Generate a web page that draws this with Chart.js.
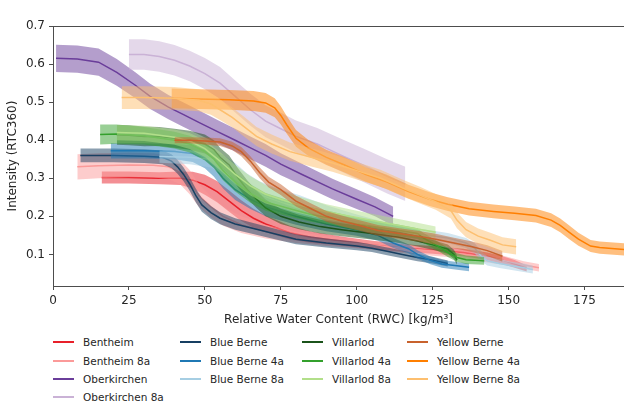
<!DOCTYPE html>
<html>
<head>
<meta charset="utf-8">
<script src="https://cdn.jsdelivr.net/npm/chart.js@4/dist/chart.umd.min.js"></script>
<style>
	body { margin: 0; background: #fff; font-family: "DejaVu Sans", sans-serif; }
	#wrap { position: relative; width: 624px; height: 404px; overflow: hidden; }
	#box { position: absolute; left: 0; top: 0; width: 624px; height: 330px; }
	.leg { position: absolute; height: 14px; font-size: 10.5px; color: #262626; display: flex; align-items: center; white-space: nowrap; }
	.leg .sw { display: inline-block; width: 21px; height: 2px; margin-right: 9px; }
</style>
</head>
<body>
<div id="wrap">
	<div id="box"><canvas id="grafico"></canvas></div>
	<div id="legenda"></div>
</div>
<script>
// series names, colours (legend order)
const nomes = ["Bentheim", "Bentheim 8a", "Oberkirchen", "Oberkirchen 8a",
	"Blue Berne", "Blue Berne 4a", "Blue Berne 8a",
	"Villarlod", "Villarlod 4a", "Villarlod 8a",
	"Yellow Berne", "Yellow Berne 4a", "Yellow Berne 8a"]
const cores = ["#e8202a", "#fb9a99", "#6a3d9a", "#cab2d6",
	"#173f62", "#1f78b4", "#a6cee3",
	"#1b531b", "#33a02c", "#b2df8a",
	"#c8622d", "#ff7f00", "#fdbf6f"]

// RWC (x), mean intensity (y), half band width (s)
const bentheimX = [16, 25, 35, 42, 46, 50, 54, 58, 62, 66, 70, 78, 85, 95, 105, 115, 125, 135, 143, 148, 152, 156]
const bentheimY = [0.302, 0.302, 0.300, 0.300, 0.295, 0.283, 0.265, 0.240, 0.215, 0.195, 0.180, 0.157, 0.145, 0.135, 0.125, 0.117, 0.112, 0.105, 0.095, 0.085, 0.075, 0.063]
const bentheimS = [0.016, 0.016, 0.016, 0.018, 0.022, 0.026, 0.028, 0.028, 0.027, 0.025, 0.022, 0.018, 0.015, 0.012, 0.011, 0.010, 0.010, 0.010, 0.010, 0.010, 0.010, 0.008]

const bentheim8aX = [8, 15, 25, 33, 38, 42, 45, 48, 52, 56, 62, 70, 80, 90, 100, 110, 120, 130, 140, 148, 155, 160]
const bentheim8aY = [0.330, 0.333, 0.335, 0.334, 0.330, 0.315, 0.290, 0.255, 0.225, 0.200, 0.178, 0.160, 0.145, 0.135, 0.128, 0.120, 0.112, 0.105, 0.095, 0.085, 0.072, 0.065]
const bentheim8aS = [0.033, 0.033, 0.032, 0.032, 0.032, 0.032, 0.032, 0.030, 0.028, 0.025, 0.022, 0.018, 0.015, 0.013, 0.012, 0.012, 0.012, 0.012, 0.012, 0.012, 0.010, 0.010]

const oberkirchenX = [1, 8, 15, 21, 27, 32, 38, 43, 48, 54, 60, 65, 70, 75, 82, 92, 100, 106, 112]
const oberkirchenY = [0.615, 0.613, 0.605, 0.578, 0.545, 0.515, 0.487, 0.467, 0.447, 0.423, 0.400, 0.380, 0.360, 0.337, 0.310, 0.272, 0.245, 0.225, 0.200]
const oberkirchenS = [0.036, 0.036, 0.036, 0.035, 0.034, 0.033, 0.032, 0.032, 0.032, 0.031, 0.030, 0.030, 0.030, 0.029, 0.028, 0.027, 0.026, 0.025, 0.025]

const oberkirchen8aX = [25, 30, 35, 40, 45, 50, 55, 60, 65, 70, 75, 80, 87, 95, 102, 110, 116]
const oberkirchen8aY = [0.625, 0.625, 0.620, 0.610, 0.595, 0.575, 0.550, 0.515, 0.480, 0.450, 0.430, 0.410, 0.390, 0.360, 0.335, 0.305, 0.285]
const oberkirchen8aS = [0.040, 0.040, 0.040, 0.040, 0.040, 0.041, 0.042, 0.042, 0.042, 0.042, 0.042, 0.042, 0.042, 0.043, 0.044, 0.045, 0.045]

const blueX = [9, 20, 30, 36, 39, 41, 43, 45, 47, 49, 52, 55, 60, 70, 80, 90, 100, 105, 110, 115, 120, 125, 130]
const blueY = [0.360, 0.360, 0.358, 0.355, 0.345, 0.330, 0.310, 0.285, 0.255, 0.230, 0.210, 0.195, 0.180, 0.160, 0.140, 0.130, 0.122, 0.116, 0.108, 0.100, 0.092, 0.085, 0.076]
const blueS = [0.018, 0.018, 0.018, 0.018, 0.018, 0.018, 0.018, 0.018, 0.018, 0.018, 0.017, 0.016, 0.015, 0.014, 0.013, 0.012, 0.011, 0.010, 0.010, 0.010, 0.010, 0.009, 0.008]

const blue4aX = [19, 30, 40, 46, 50, 53, 56, 60, 65, 70, 80, 90, 100, 107, 112, 117, 120, 124, 128, 133, 137]
const blue4aY = [0.372, 0.372, 0.370, 0.365, 0.350, 0.330, 0.300, 0.270, 0.245, 0.225, 0.200, 0.180, 0.165, 0.150, 0.130, 0.115, 0.100, 0.085, 0.075, 0.070, 0.066]
const blue4aS = [0.020, 0.020, 0.020, 0.022, 0.024, 0.026, 0.027, 0.027, 0.026, 0.025, 0.022, 0.019, 0.016, 0.014, 0.013, 0.012, 0.011, 0.010, 0.010, 0.010, 0.010]

const blue8aX = [35, 45, 52, 56, 60, 64, 68, 75, 81, 90, 100, 108, 115, 122, 130, 136, 139, 141, 143, 147, 151, 155, 158]
const blue8aY = [0.357, 0.355, 0.350, 0.335, 0.310, 0.280, 0.260, 0.240, 0.228, 0.205, 0.185, 0.170, 0.160, 0.152, 0.143, 0.130, 0.115, 0.095, 0.083, 0.076, 0.070, 0.065, 0.060]
const blue8aS = [0.016, 0.018, 0.022, 0.026, 0.030, 0.032, 0.032, 0.030, 0.028, 0.024, 0.020, 0.017, 0.015, 0.014, 0.013, 0.013, 0.013, 0.013, 0.012, 0.012, 0.011, 0.011, 0.010]

const villarlodX = [21, 25, 30, 35, 40, 45, 50, 53, 55, 58, 61, 64, 67, 70, 75, 81, 88, 95, 105, 114, 120, 125, 130, 132, 133]
const villarlodY = [0.414, 0.413, 0.410, 0.410, 0.405, 0.400, 0.390, 0.375, 0.355, 0.335, 0.300, 0.270, 0.245, 0.222, 0.200, 0.185, 0.173, 0.165, 0.155, 0.145, 0.135, 0.125, 0.114, 0.100, 0.085]
const villarlodS = [0.026, 0.026, 0.026, 0.025, 0.025, 0.025, 0.025, 0.025, 0.025, 0.025, 0.025, 0.024, 0.023, 0.022, 0.020, 0.019, 0.018, 0.017, 0.016, 0.015, 0.014, 0.013, 0.012, 0.012, 0.012]

const villarlod4aX = [15.5, 21, 30, 40, 45, 50, 53, 56, 60, 65, 70, 78, 85, 92, 100, 108, 114, 120, 122, 126, 130, 133, 136, 142]
const villarlod4aY = [0.415, 0.416, 0.412, 0.400, 0.390, 0.370, 0.350, 0.320, 0.290, 0.260, 0.238, 0.220, 0.205, 0.194, 0.180, 0.170, 0.163, 0.155, 0.143, 0.125, 0.105, 0.092, 0.086, 0.083]
const villarlod4aS = [0.026, 0.025, 0.023, 0.022, 0.022, 0.023, 0.024, 0.025, 0.025, 0.024, 0.023, 0.021, 0.019, 0.018, 0.017, 0.016, 0.015, 0.014, 0.013, 0.012, 0.012, 0.011, 0.011, 0.010]

const villarlod8aX = [21, 30, 40, 45, 50, 55, 60, 65, 70, 80, 90, 100, 110, 120, 126]
const villarlod8aY = [0.420, 0.418, 0.408, 0.398, 0.378, 0.345, 0.310, 0.280, 0.258, 0.232, 0.212, 0.197, 0.182, 0.167, 0.158]
const villarlod8aS = [0.020, 0.020, 0.020, 0.021, 0.022, 0.024, 0.025, 0.025, 0.024, 0.022, 0.020, 0.018, 0.017, 0.016, 0.015]

const yellowX = [40, 45, 50, 55, 59, 62, 65, 68, 71, 75, 80, 85, 90, 95, 100, 107, 114, 120, 126, 132, 138, 143, 148]
const yellowY = [0.400, 0.400, 0.398, 0.395, 0.385, 0.370, 0.345, 0.315, 0.290, 0.270, 0.240, 0.220, 0.200, 0.188, 0.178, 0.163, 0.155, 0.148, 0.140, 0.130, 0.120, 0.110, 0.095]
const yellowS = [0.008, 0.008, 0.009, 0.010, 0.011, 0.012, 0.013, 0.014, 0.014, 0.014, 0.014, 0.014, 0.014, 0.014, 0.014, 0.014, 0.014, 0.014, 0.014, 0.014, 0.014, 0.014, 0.014]

const yellow4aX = [39, 48, 58, 66, 70, 73, 75, 77, 80, 84, 90, 96, 103, 110, 117, 124, 130, 137, 145, 152, 159, 164, 167, 170, 173, 177, 180, 188]
const yellow4aY = [0.510, 0.508, 0.506, 0.503, 0.498, 0.485, 0.465, 0.440, 0.405, 0.380, 0.355, 0.335, 0.310, 0.290, 0.265, 0.245, 0.232, 0.220, 0.213, 0.208, 0.202, 0.190, 0.176, 0.158, 0.140, 0.122, 0.118, 0.113]
const yellow4aS = [0.026, 0.026, 0.026, 0.026, 0.026, 0.025, 0.024, 0.023, 0.022, 0.021, 0.020, 0.020, 0.019, 0.019, 0.018, 0.018, 0.018, 0.018, 0.018, 0.018, 0.018, 0.018, 0.018, 0.018, 0.017, 0.016, 0.016, 0.016]

const yellow8aX = [22.6, 30, 40, 48, 52, 55, 59, 63, 67, 72, 78, 85, 92, 100, 108, 115, 121, 126, 131, 133, 136, 140, 144, 148, 152.5]
const yellow8aY = [0.512, 0.512, 0.510, 0.505, 0.495, 0.480, 0.460, 0.435, 0.410, 0.390, 0.370, 0.355, 0.340, 0.320, 0.300, 0.275, 0.255, 0.238, 0.215, 0.190, 0.165, 0.148, 0.137, 0.125, 0.120]
const yellow8aS = [0.030, 0.030, 0.030, 0.029, 0.028, 0.027, 0.026, 0.026, 0.025, 0.025, 0.024, 0.024, 0.023, 0.023, 0.022, 0.022, 0.022, 0.021, 0.021, 0.021, 0.020, 0.020, 0.020, 0.020, 0.020]

const xTicks = [0, 25, 50, 75, 100, 125, 150, 175]
const yTicks = [0.1, 0.2, 0.3, 0.4, 0.5, 0.6, 0.7]

const series = [
	[bentheimX, bentheimY, bentheimS],
	[bentheim8aX, bentheim8aY, bentheim8aS],
	[oberkirchenX, oberkirchenY, oberkirchenS],
	[oberkirchen8aX, oberkirchen8aY, oberkirchen8aS],
	[blueX, blueY, blueS],
	[blue4aX, blue4aY, blue4aS],
	[blue8aX, blue8aY, blue8aS],
	[villarlodX, villarlodY, villarlodS],
	[villarlod4aX, villarlod4aY, villarlod4aS],
	[villarlod8aX, villarlod8aY, villarlod8aS],
	[yellowX, yellowY, yellowS],
	[yellow4aX, yellow4aY, yellow4aS],
	[yellow8aX, yellow8aY, yellow8aS],
]

function alpha(hex, a) {
	let r = parseInt(hex.slice(1, 3), 16)
	let g = parseInt(hex.slice(3, 5), 16)
	let b = parseInt(hex.slice(5, 7), 16)
	return `rgba(${r}, ${g}, ${b}, ${a})`
}

// each series: upper band (filled down to the next dataset), lower band, mean line
var datasets = []
series.forEach((s, i) => {
	let [xs, ys, sp] = s
	let ordem = 200 - i * 3
	datasets.push({
		data: xs.map((x, k) => ({ x: x, y: ys[k] + sp[k] })),
		borderWidth: 0,
		pointRadius: 0,
		fill: "+1",
		backgroundColor: alpha(cores[i], 0.5),
		order: ordem,
	})
	datasets.push({
		data: xs.map((x, k) => ({ x: x, y: ys[k] - sp[k] })),
		borderWidth: 0,
		pointRadius: 0,
		fill: false,
		order: ordem - 1,
	})
	datasets.push({
		label: nomes[i],
		data: xs.map((x, k) => ({ x: x, y: ys[k] })),
		borderColor: cores[i],
		borderWidth: 1.5,
		pointRadius: 0,
		fill: false,
		order: ordem - 2,
	})
})

Chart.defaults.font.family = "'DejaVu Sans', sans-serif"
Chart.defaults.font.size = 12
Chart.defaults.color = "#262626"

const eixo = "#4d4d4d"

var grafico = new Chart(document.getElementById("grafico"), {
	type: "line",
	data: { datasets: datasets },
	options: {
		responsive: true,
		maintainAspectRatio: false,
		animation: false,
		layout: { padding: { top: 18, right: 0, bottom: 0, left: 0 } },
		plugins: {
			legend: { display: false },
			tooltip: { enabled: false },
		},
		scales: {
			x: {
				type: "linear",
				min: 0,
				max: 188,
				afterBuildTicks: (s) => { s.ticks = xTicks.map((v) => ({ value: v })) },
				afterFit: (s) => { s.height = 44 },
				ticks: { padding: 4, maxRotation: 0 },
				grid: { display: true, drawOnChartArea: false, tickLength: 4, color: eixo },
				border: { color: eixo, width: 1 },
				title: { display: true, text: "Relative Water Content (RWC) [kg/m³]", padding: { top: 2, bottom: 3 } },
			},
			topo: {
				type: "linear",
				position: "top",
				min: 0,
				max: 188,
				ticks: { display: false },
				grid: { display: false },
				border: { color: eixo, width: 1 },
			},
			y: {
				type: "linear",
				min: 0.017,
				max: 0.7,
				afterBuildTicks: (s) => { s.ticks = yTicks.map((v) => ({ value: v })) },
				afterFit: (s) => { s.width = 53 },
				ticks: { padding: 4, callback: (v) => v.toFixed(1) },
				grid: { display: true, drawOnChartArea: false, tickLength: 4, color: eixo },
				border: { color: eixo, width: 1 },
				title: { display: true, text: "Intensity (RTC360)", padding: { top: 6, bottom: 2 } },
			},
		},
	},
})

// legend in four columns under the plot
var legenda = document.getElementById("legenda")
var colunas = [53, 180, 302, 407]
var linhas = [342, 360.5, 378.7, 396.7]
nomes.forEach((nome, i) => {
	let col = i < 4 ? 0 : 1 + Math.floor((i - 4) / 3)
	let lin = i < 4 ? i : (i - 4) % 3
	let item = document.createElement("div")
	item.className = "leg"
	item.style.left = colunas[col] + "px"
	item.style.top = (linhas[lin] - 7) + "px"
	let sw = document.createElement("span")
	sw.className = "sw"
	sw.style.background = cores[i]
	item.appendChild(sw)
	item.appendChild(document.createTextNode(nome))
	legenda.appendChild(item)
})
</script>
</body>
</html>
